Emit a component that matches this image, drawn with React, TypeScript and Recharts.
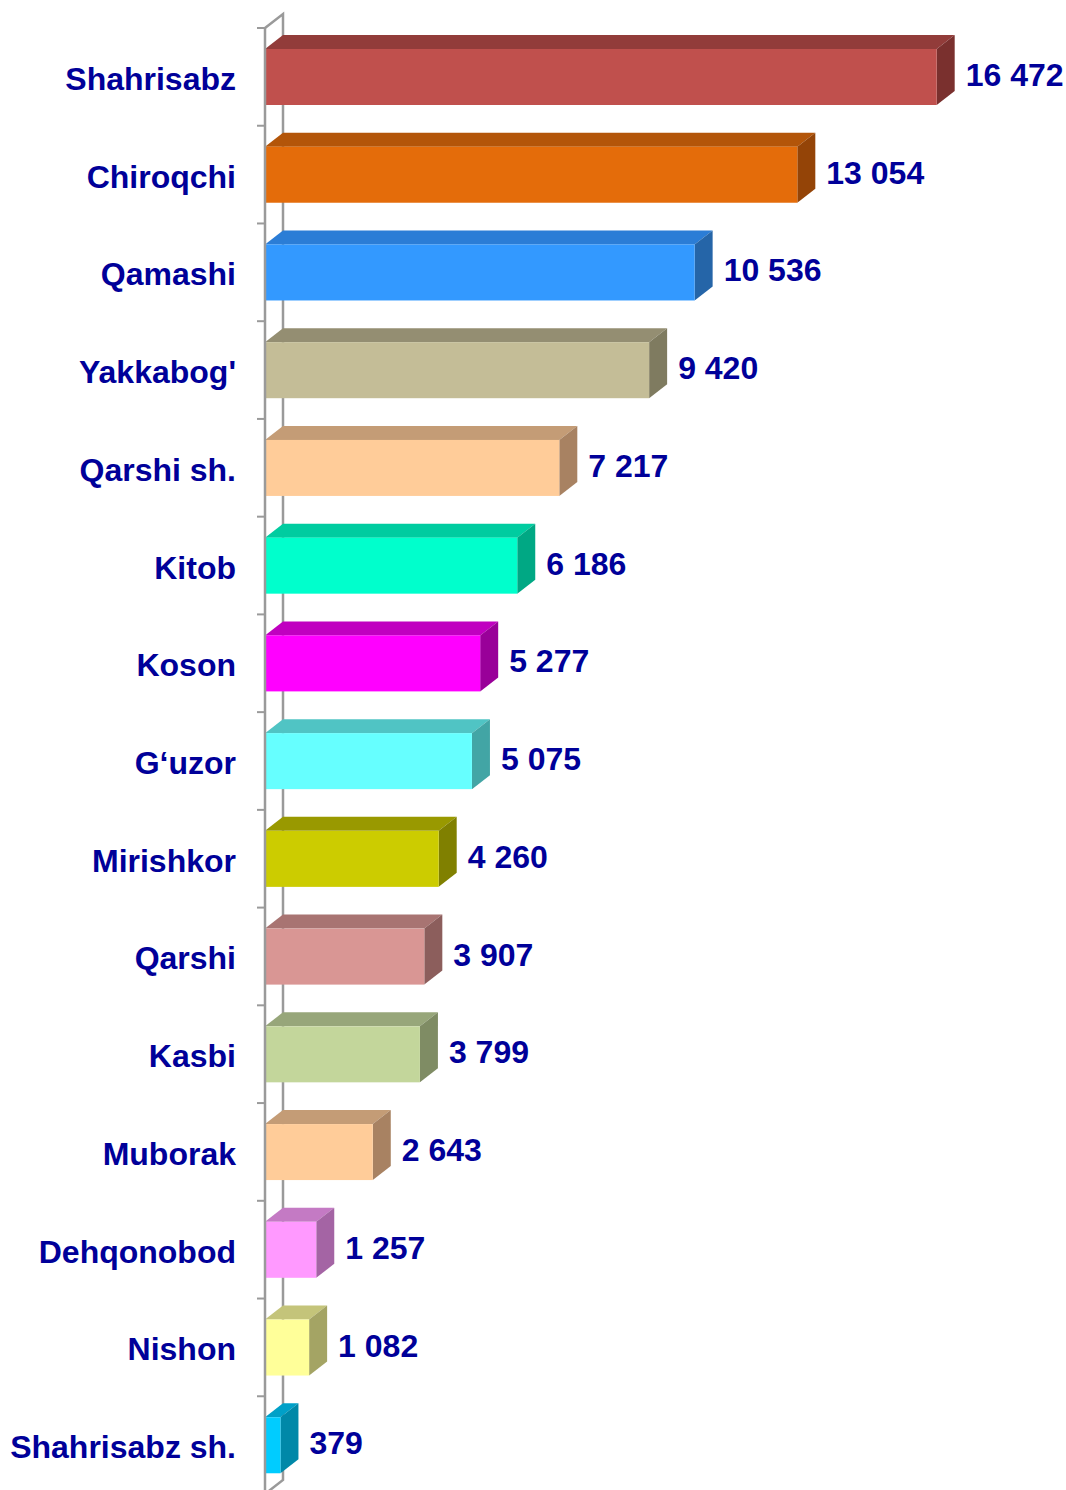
import React from "react";
import { BarChart, Bar, XAxis, YAxis, LabelList } from "recharts";

const districts = [
  "Shahrisabz", "Chiroqchi", "Qamashi", "Yakkabog'", "Qarshi sh.",
  "Kitob", "Koson", "G\u2018uzor", "Mirishkor", "Qarshi",
  "Kasbi", "Muborak", "Dehqonobod", "Nishon", "Shahrisabz sh.",
];
const values = [16472, 13054, 10536, 9420, 7217, 6186, 5277, 5075, 4260, 3907, 3799, 2643, 1257, 1082, 379];

// front / top / side shades per bar
const FACES = [
  ["#C0504D", "#923C3A", "#7A302E"],
  ["#E46C0A", "#B35509", "#944407"],
  ["#3399FF", "#2B7DD6", "#2565A8"],
  ["#C4BD97", "#948E72", "#7F7B60"],
  ["#FFCC99", "#C49C76", "#A88262"],
  ["#00FFCC", "#00CCA0", "#00A884"],
  ["#FF00FF", "#C000C0", "#990099"],
  ["#66FFFF", "#50C4C4", "#42A5A5"],
  ["#CCCC00", "#999900", "#808000"],
  ["#D99694", "#A87472", "#8C5E5C"],
  ["#C3D69B", "#97A67A", "#7F8C64"],
  ["#FFCC99", "#C49C76", "#A88262"],
  ["#FF99FF", "#C47AC4", "#A464A4"],
  ["#FFFF99", "#C4C47A", "#A4A464"],
  ["#00CCFF", "#00A0C8", "#0088A8"],
];

const data = districts.map((name, i) => ({ name, value: values[i] }));

const W = 1066;
const H = 1494;
const TOP = 28;
const AXIS_X = 265;
const RIGHT = 67;
const DX = 18;
const DY = 14;
const BAND = (H - TOP) / districts.length;
const NAVY = "#000099";
const FONT = "Arial, 'Liberation Sans', sans-serif";
const GREY = "#9a9a9a";
const FS = 32;

const fmt = (v: number) => String(v).replace(/\B(?=(\d{3})+(?!\d))/g, " ");

function Bar3D(props: any) {
  const { x, y, width, height, index } = props;
  const [front, top, side] = FACES[index % FACES.length];
  const r = x + width;
  return (
    <g>
      <polygon points={`${x},${y} ${x + DX},${y - DY} ${r + DX},${y - DY} ${r},${y}`} fill={top} />
      <polygon points={`${r},${y} ${r + DX},${y - DY} ${r + DX},${y + height - DY} ${r},${y + height}`} fill={side} />
      <rect x={x} y={y} width={width} height={height} fill={front} />
    </g>
  );
}

function CatTick(props: any) {
  const { y, payload } = props;
  const by = y - BAND / 2;
  return (
    <g>
      <line x1={AXIS_X - 8} y1={by} x2={AXIS_X} y2={by} stroke={GREY} strokeWidth={2} />
      <text
        x={AXIS_X - 29}
        y={y + 2}
        textAnchor="end"
        dominantBaseline="central"
        fill={NAVY}
        fontFamily={FONT}
        fontWeight="bold"
        fontSize={FS}
      >
        {payload.value}
      </text>
    </g>
  );
}

function ValueLabel(props: any) {
  const { x, y, width, height, value } = props;
  return (
    <text
      x={x + width + DX + 11}
      y={y + height / 2 - 2}
      dominantBaseline="central"
      fill={NAVY}
      fontFamily={FONT}
      fontWeight="bold"
      fontSize={FS}
    >
      {fmt(value)}
    </text>
  );
}

function Wall() {
  const bx = AXIS_X + DX;
  return (
    <svg width={W} height={H} style={{ position: "absolute", left: 0, top: 0 }}>
      <polyline
        points={`${AXIS_X},${TOP} ${bx},${TOP - DY} ${bx},${H - DY} ${AXIS_X},${H}`}
        fill="none"
        stroke={GREY}
        strokeWidth={2.5}
      />
    </svg>
  );
}

export default function App() {
  return (
    <div style={{ position: "absolute", left: 0, top: 0, width: W, height: H, background: "#fff" }}>
      <Wall />
      <div style={{ position: "absolute", left: 0, top: 0 }}>
        <BarChart
          width={W}
          height={H}
          data={data}
          layout="vertical"
          margin={{ top: TOP, right: RIGHT, bottom: 0, left: 0 }}
        >
          <XAxis type="number" domain={[0, 18000]} hide />
          <YAxis
            type="category"
            dataKey="name"
            width={AXIS_X}
            axisLine={{ stroke: GREY, strokeWidth: 2.5 }}
            tickLine={false}
            tick={<CatTick />}
            interval={0}
          />
          <Bar dataKey="value" barSize={56} shape={<Bar3D />} isAnimationActive={false}>
            <LabelList dataKey="value" content={<ValueLabel />} />
          </Bar>
        </BarChart>
      </div>
    </div>
  );
}
